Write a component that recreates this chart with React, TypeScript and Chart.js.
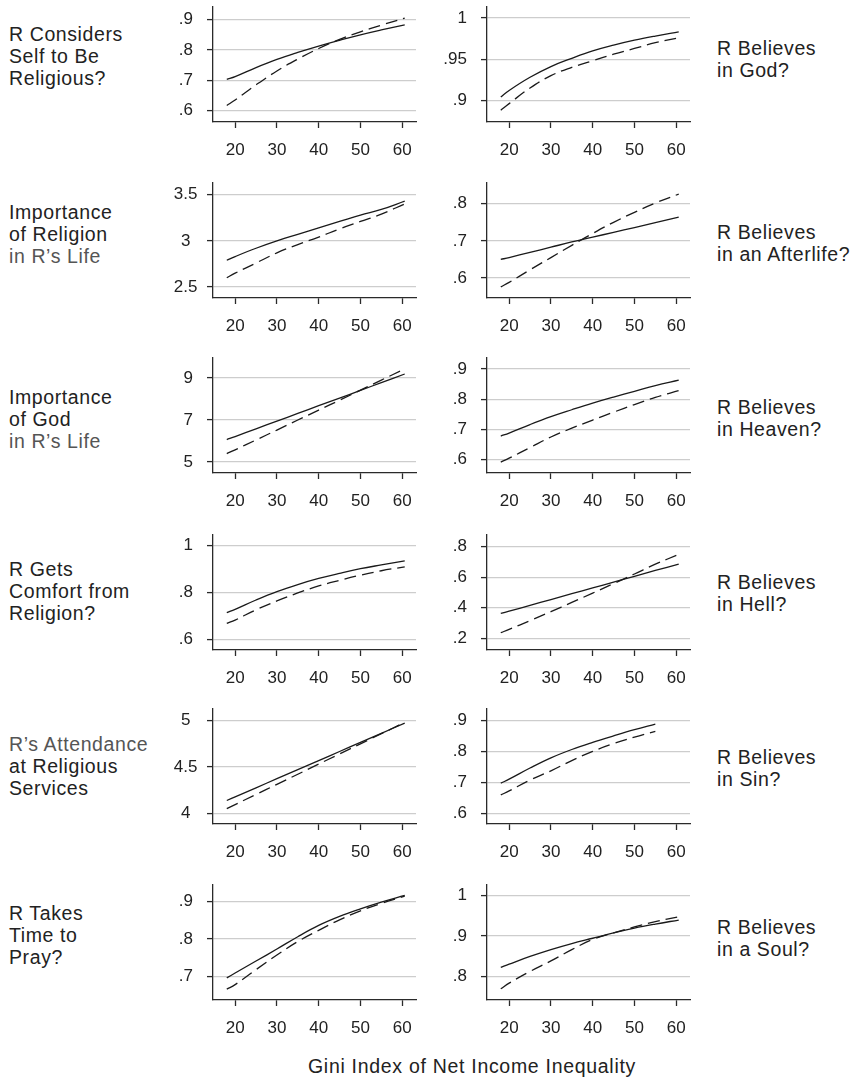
import React, { useEffect, useRef } from "react";
import { Chart, registerables } from "chart.js";

Chart.register(...registerables);

// ---------- DATA ----------
const GINI = [18, 20, 25, 30, 35, 40, 45, 50, 55, 60.6];
const X_TICKS = [20, 30, 40, 50, 60];
const X_MIN = 14.7;
const X_MAX = 63.3;
const X_TITLE = "Gini Index of Net Income Inequality";

const RELIGIOUS_SOLID = [0.703, 0.712, 0.742, 0.769, 0.792, 0.813, 0.832, 0.85, 0.866, 0.883];
const RELIGIOUS_DASHED = [0.617, 0.635, 0.685, 0.731, 0.77, 0.805, 0.835, 0.86, 0.882, 0.905];
const RELIGIOUS_TICKS = [0.6, 0.7, 0.8, 0.9];

const GOD_SOLID = [0.904, 0.912, 0.928, 0.941, 0.951, 0.96, 0.967, 0.973, 0.978, 0.983];
const GOD_DASHED = [0.888, 0.896, 0.915, 0.93, 0.94, 0.948, 0.956, 0.963, 0.97, 0.976];
const GOD_TICKS = [0.9, 0.95, 1];

const IMP_RELIGION_SOLID = [2.79, 2.83, 2.92, 3.0, 3.07, 3.14, 3.21, 3.28, 3.34, 3.43];
const IMP_RELIGION_DASHED = [2.6, 2.65, 2.76, 2.87, 2.96, 3.04, 3.13, 3.21, 3.29, 3.4];
const IMP_RELIGION_TICKS = [2.5, 3, 3.5];

const AFTERLIFE_SOLID = [0.65, 0.655, 0.669, 0.683, 0.697, 0.71, 0.723, 0.736, 0.749, 0.764];
const AFTERLIFE_DASHED = [0.576, 0.588, 0.622, 0.655, 0.688, 0.72, 0.75, 0.777, 0.802, 0.826];
const AFTERLIFE_TICKS = [0.6, 0.7, 0.8];

const IMP_GOD_SOLID = [6.07, 6.21, 6.58, 6.95, 7.31, 7.68, 8.04, 8.41, 8.78, 9.19];
const IMP_GOD_DASHED = [5.4, 5.58, 6.05, 6.52, 7.0, 7.47, 7.94, 8.42, 8.9, 9.43];
const IMP_GOD_TICKS = [5, 7, 9];

const HEAVEN_SOLID = [0.678, 0.688, 0.716, 0.742, 0.765, 0.787, 0.807, 0.826, 0.845, 0.863];
const HEAVEN_DASHED = [0.592, 0.605, 0.64, 0.675, 0.704, 0.731, 0.757, 0.782, 0.806, 0.828];
const HEAVEN_TICKS = [0.6, 0.7, 0.8, 0.9];

const COMFORT_SOLID = [0.714, 0.728, 0.768, 0.804, 0.834, 0.86, 0.882, 0.902, 0.918, 0.935];
const COMFORT_DASHED = [0.668, 0.682, 0.726, 0.764, 0.798, 0.828, 0.852, 0.874, 0.893, 0.91];
const COMFORT_TICKS = [0.6, 0.8, 1];

const HELL_SOLID = [0.363, 0.378, 0.416, 0.454, 0.492, 0.53, 0.568, 0.606, 0.644, 0.686];
const HELL_DASHED = [0.237, 0.259, 0.316, 0.375, 0.435, 0.496, 0.558, 0.621, 0.685, 0.749];
const HELL_TICKS = [0.2, 0.4, 0.6, 0.8];

const ATTEND_SOLID = [4.137, 4.176, 4.274, 4.372, 4.469, 4.567, 4.665, 4.763, 4.861, 4.97];
const ATTEND_DASHED = [4.049, 4.093, 4.202, 4.311, 4.42, 4.53, 4.639, 4.748, 4.857, 4.98];
const ATTEND_TICKS = [4, 4.5, 5];

const SIN_SOLID = [0.697, 0.71, 0.746, 0.779, 0.806, 0.829, 0.85, 0.87, 0.888, null];
const SIN_DASHED = [0.659, 0.672, 0.707, 0.737, 0.77, 0.8, 0.825, 0.846, 0.865, null];
const SIN_TICKS = [0.6, 0.7, 0.8, 0.9];

const PRAY_SOLID = [0.696, 0.709, 0.741, 0.773, 0.806, 0.836, 0.86, 0.88, 0.898, 0.916];
const PRAY_DASHED = [0.666, 0.678, 0.718, 0.757, 0.793, 0.823, 0.851, 0.875, 0.895, 0.914];
const PRAY_TICKS = [0.7, 0.8, 0.9];

const SOUL_SOLID = [0.822, 0.83, 0.849, 0.866, 0.881, 0.894, 0.907, 0.919, 0.929, 0.939];
const SOUL_DASHED = [0.769, 0.783, 0.812, 0.838, 0.866, 0.891, 0.907, 0.922, 0.935, 0.947];
const SOUL_TICKS = [0.8, 0.9, 1];

const PANELS = [
  { label: ["R Considers", "Self to Be", "Religious?"], solid: RELIGIOUS_SOLID, dashed: RELIGIOUS_DASHED, ticks: RELIGIOUS_TICKS, min: 0.5627, max: 0.9417 },
  { label: ["R Believes", "in God?"], solid: GOD_SOLID, dashed: GOD_DASHED, ticks: GOD_TICKS, min: 0.8737, max: 1.0133 },
  { label: ["Importance", "of Religion", "in R\u2019s Life"], solid: IMP_RELIGION_SOLID, dashed: IMP_RELIGION_DASHED, ticks: IMP_RELIGION_TICKS, min: 2.381, max: 3.627 },
  { label: ["R Believes", "in an Afterlife?"], solid: AFTERLIFE_SOLID, dashed: AFTERLIFE_DASHED, ticks: AFTERLIFE_TICKS, min: 0.546, max: 0.856 },
  { label: ["Importance", "of God", "in R\u2019s Life"], solid: IMP_GOD_SOLID, dashed: IMP_GOD_DASHED, ticks: IMP_GOD_TICKS, min: 4.476, max: 9.952 },
  { label: ["R Believes", "in Heaven?"], solid: HEAVEN_SOLID, dashed: HEAVEN_DASHED, ticks: HEAVEN_TICKS, min: 0.556, max: 0.936 },
  { label: ["R Gets", "Comfort from", "Religion?"], solid: COMFORT_SOLID, dashed: COMFORT_DASHED, ticks: COMFORT_TICKS, min: 0.554, max: 1.046 },
  { label: ["R Believes", "in Hell?"], solid: HELL_SOLID, dashed: HELL_DASHED, ticks: HELL_TICKS, min: 0.124, max: 0.876 },
  { label: ["R\u2019s Attendance", "at Religious", "Services"], solid: ATTEND_SOLID, dashed: ATTEND_DASHED, ticks: ATTEND_TICKS, min: 3.884, max: 5.123 },
  { label: ["R Believes", "in Sin?"], solid: SIN_SOLID, dashed: SIN_DASHED, ticks: SIN_TICKS, min: 0.565, max: 0.937 },
  { label: ["R Takes", "Time to", "Pray?"], solid: PRAY_SOLID, dashed: PRAY_DASHED, ticks: PRAY_TICKS, min: 0.637, max: 0.944 },
  { label: ["R Believes", "in a Soul?"], solid: SOUL_SOLID, dashed: SOUL_DASHED, ticks: SOUL_TICKS, min: 0.7414, max: 1.0256 },
];

const LIGHT_LINES = ["in R\u2019s Life", "R\u2019s Attendance"];

// ---------- LAYOUT ----------
const FONT = "'Liberation Sans', Arial, Helvetica, sans-serif";
const COL_LEFT = [213, 487];
const ROW_TOP = [7, 183, 358, 535, 709, 885];
const PLOT_W = 203;
const PLOT_H = 115;
const Y_AXIS_W = 60;
const PAD_TOP = 10;
const PAD_RIGHT = 12;
const X_AXIS_H = 40;
const LEFT_LABEL_Y = [35, 213, 398, 570, 745, 914];
const RIGHT_LABEL_Y = [49, 233, 408, 583, 758, 928];
const LINE_H = 21.7;

const AXIS_COLOR = "#2a2a2a";
const GRID_COLOR = "#cdcdcd";
const LINE_COLOR = "#1a1a1a";
const TEXT_COLOR = "#222";

function fmt(v: number): string {
  const s = String(+v.toFixed(3));
  return s.startsWith("0.") ? s.slice(1) : s;
}

function Panel({ idx }: { idx: number }) {
  const ref = useRef<HTMLCanvasElement | null>(null);
  const p = PANELS[idx];
  const col = idx % 2;
  const row = Math.floor(idx / 2);
  const w = Y_AXIS_W + PLOT_W + PAD_RIGHT;
  const h = PAD_TOP + PLOT_H + X_AXIS_H;
  // labels like "3.5" are centred in the label column, the others sit right-aligned
  const wideLabels = p.ticks.some((v) => v >= 1 && !Number.isInteger(v));

  useEffect(() => {
    if (!ref.current) return;
    const mk = (vals: (number | null)[]) => GINI.map((x, i) => ({ x, y: vals[i] }));
    const chart = new Chart(ref.current, {
      type: "line",
      data: {
        datasets: [
          {
            data: mk(p.solid),
            borderColor: LINE_COLOR,
            borderWidth: 1.3,
            pointRadius: 0,
            fill: false,
            tension: 0.4,
          },
          {
            data: mk(p.dashed),
            borderColor: LINE_COLOR,
            borderWidth: 1.3,
            borderDash: [12, 6],
            pointRadius: 0,
            fill: false,
            tension: 0.4,
          },
        ],
      },
      options: {
        animation: false,
        responsive: false,
        maintainAspectRatio: false,
        devicePixelRatio: 1,
        events: [],
        layout: { autoPadding: false, padding: { top: PAD_TOP, right: PAD_RIGHT, left: 0, bottom: 0 } },
        plugins: { legend: { display: false }, tooltip: { enabled: false }, title: { display: false } },
        scales: {
          x: {
            type: "linear",
            min: X_MIN,
            max: X_MAX,
            afterBuildTicks: (s: any) => {
              s.ticks = X_TICKS.map((v) => ({ value: v }));
            },
            afterFit: (s: any) => {
              s.height = X_AXIS_H;
              s.paddingLeft = 0;
              s.paddingRight = 0;
            },
            grid: { drawOnChartArea: false, drawTicks: true, tickLength: 6, tickColor: AXIS_COLOR, tickWidth: 1.3 },
            border: { display: true, color: AXIS_COLOR, width: 1.3 },
            ticks: { color: TEXT_COLOR, font: { family: FONT, size: 17 }, padding: 12, maxRotation: 0, autoSkip: false },
          },
          y: {
            type: "linear",
            min: p.min,
            max: p.max,
            afterBuildTicks: (s: any) => {
              s.ticks = p.ticks.map((v) => ({ value: v }));
            },
            afterFit: (s: any) => {
              s.width = Y_AXIS_W;
              s.paddingTop = 0;
              s.paddingBottom = 0;
            },
            grid: { color: GRID_COLOR, lineWidth: 1.2, drawTicks: true, tickLength: 6, tickColor: AXIS_COLOR, tickWidth: 1.3 },
            border: { display: true, color: AXIS_COLOR, width: 1.3 },
            ticks: {
              color: TEXT_COLOR,
              font: { family: FONT, size: 17 },
              padding: wideLabels ? 9.5 : 14,
              crossAlign: wideLabels ? "center" : "near",
              autoSkip: false,
              callback: (v: any) => fmt(Number(v)),
            },
          },
        },
      } as any,
    });
    return () => chart.destroy();
  }, [idx]);

  return (
    <canvas
      ref={ref}
      width={w}
      height={h}
      style={{
        position: "absolute",
        left: COL_LEFT[col] - Y_AXIS_W,
        top: ROW_TOP[row] - PAD_TOP,
        width: w,
        height: h,
      }}
    />
  );
}

function SideLabel({ idx }: { idx: number }) {
  const p = PANELS[idx];
  const col = idx % 2;
  const row = Math.floor(idx / 2);
  const centerY = col === 0 ? LEFT_LABEL_Y[row] : RIGHT_LABEL_Y[row];
  return (
    <div
      style={{
        position: "absolute",
        left: col === 0 ? 9 : 717,
        top: centerY - LINE_H / 2,
        fontFamily: FONT,
        fontSize: 19.5,
        letterSpacing: 0.6,
        lineHeight: `${LINE_H}px`,
        color: TEXT_COLOR,
        whiteSpace: "nowrap",
      }}
    >
      {p.label.map((t, i) => (
        <div key={i} style={{ color: LIGHT_LINES.includes(t) ? "#555" : TEXT_COLOR }}>
          {t}
        </div>
      ))}
    </div>
  );
}

export default function App() {
  return (
    <div
      style={{
        position: "absolute",
        left: 0,
        top: 0,
        width: 856,
        height: 1077,
        background: "#fff",
        overflow: "hidden",
      }}
    >
      {PANELS.map((_, i) => (
        <Panel key={"p" + i} idx={i} />
      ))}
      {PANELS.map((_, i) => (
        <SideLabel key={"l" + i} idx={i} />
      ))}
      <div
        style={{
          position: "absolute",
          left: 0,
          width: 944,
          top: 1055,
          textAlign: "center",
          fontFamily: FONT,
          fontSize: 19.5,
          letterSpacing: 0.7,
          color: TEXT_COLOR,
          whiteSpace: "nowrap",
          lineHeight: "22px",
        }}
      >
        {X_TITLE}
      </div>
    </div>
  );
}
